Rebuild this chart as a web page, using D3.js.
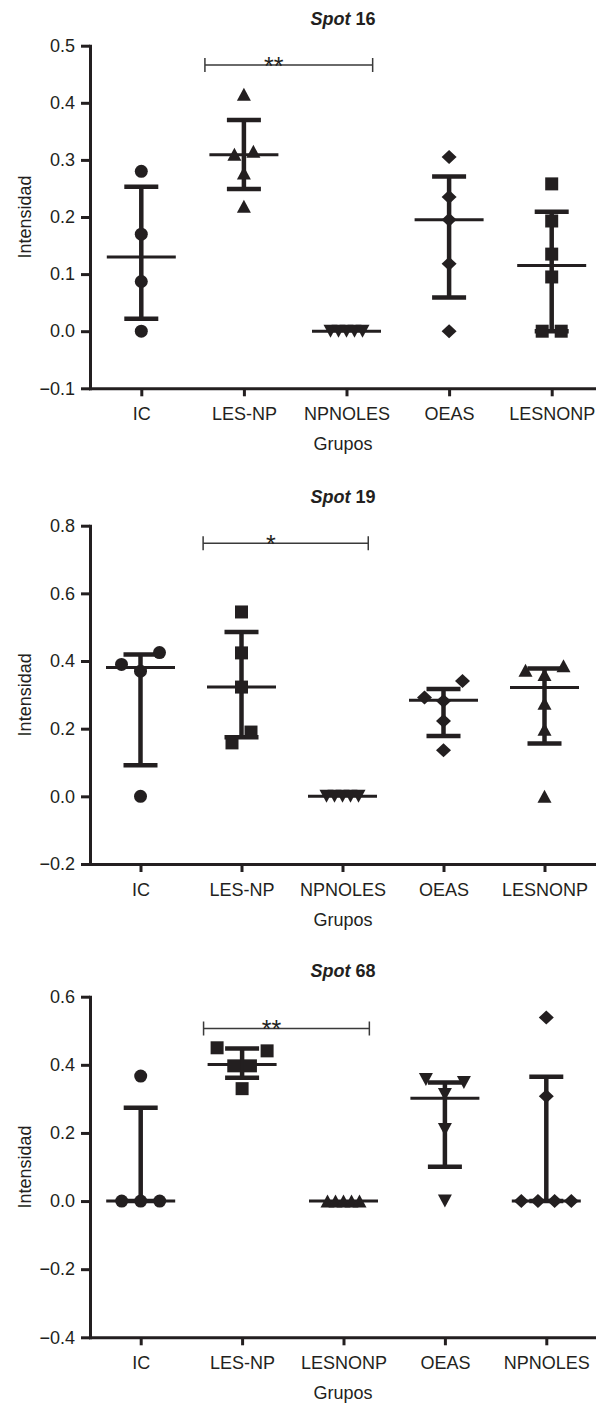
<!DOCTYPE html>
<html lang="es">
<head>
<meta charset="utf-8">
<title>Spot 16, 19, 68</title>
<script src="https://d3js.org/d3.v7.min.js"></script>
<style>
  body { margin: 0; background: #fff; }
  text { font-family: "Liberation Sans", Arial, Helvetica, sans-serif; fill: #231f20; }
</style>
</head>
<body>
<div id="chart"></div>
<script>

// ---- DATA ----
// Spot 16
var groups16 = ["IC", "LES-NP", "NPNOLES", "OEAS", "LESNONP"];
var values16 = [
  [0.28, 0.17, 0.087, 0],
  [0.415, 0.31, 0.315, 0.277, 0.219],
  [0, 0, 0, 0, 0],
  [0.305, 0.235, 0.195, 0.118, 0],
  [0.258, 0.193, 0.135, 0.095, 0, 0]
];
var median16 = [0.13, 0.309, 0, 0.195, 0.115];
var q1_16 = [0.022, 0.249, 0, 0.059, 0];
var q3_16 = [0.253, 0.37, 0, 0.271, 0.209];
var ticks16 = [-0.1, 0, 0.1, 0.2, 0.3, 0.4, 0.5];
var sig16 = ["LES-NP", "NPNOLES", 0.466, "**"];

// Spot 19
var groups19 = ["IC", "LES-NP", "NPNOLES", "OEAS", "LESNONP"];
var values19 = [
  [0.39, 0.37, 0.425, 0],
  [0.545, 0.424, 0.323, 0.158, 0.19],
  [0, 0, 0, 0, 0],
  [0.292, 0.282, 0.341, 0.223, 0.136],
  [0.373, 0.36, 0.386, 0.275, 0.198, 0]
];
var median19 = [0.381, 0.323, 0, 0.284, 0.322];
var q1_19 = [0.092, 0.175, 0, 0.178, 0.156];
var q3_19 = [0.419, 0.486, 0, 0.317, 0.378];
var ticks19 = [-0.2, 0, 0.2, 0.4, 0.6, 0.8];
var sig19 = ["LES-NP", "NPNOLES", 0.748, "*"];

// Spot 68
var groups68 = ["IC", "LES-NP", "LESNONP", "OEAS", "NPNOLES"];
var values68 = [
  [0.367, 0, 0, 0],
  [0.45, 0.397, 0.397, 0.441, 0.33],
  [0, 0, 0, 0, 0],
  [0.357, 0.313, 0.348, 0.21, 0],
  [0.539, 0.308, 0, 0, 0, 0]
];
var median68 = [0, 0.401, 0, 0.302, 0];
var q1_68 = [0, 0.362, 0, 0.101, 0];
var q3_68 = [0.274, 0.448, 0, 0.348, 0.365];
var ticks68 = [-0.4, -0.2, 0, 0.2, 0.4, 0.6];
var sig68 = ["LES-NP", "LESNONP", 0.507, "**"];

// ---- LAYOUT ----
var W = 596, H = 1404;
var ink = "#231f20";
var x0 = 90, plotMid = 343;
var fs = 18;

var panels = [
  { spot: "16", groups: groups16, values: values16, median: median16, q1: q1_16, q3: q3_16,
    ticks: ticks16, sig: sig16, top: 45.7, bottom: 388.3, xEnd: 603, titleY: 25,
    shapes: ["circle", "up", "down", "diamond", "square"] },
  { spot: "19", groups: groups19, values: values19, median: median19, q1: q1_19, q3: q3_19,
    ticks: ticks19, sig: sig19, top: 525.7, bottom: 864, xEnd: 595, titleY: 503,
    shapes: ["circle", "square", "down", "diamond", "up"] },
  { spot: "68", groups: groups68, values: values68, median: median68, q1: q1_68, q3: q3_68,
    ticks: ticks68, sig: sig68, top: 996.7, bottom: 1337.3, xEnd: 597, titleY: 977,
    shapes: ["circle", "square", "up", "down", "diamond"] }
];

// marker outlines centred on 0,0
function shapePath(kind) {
  switch (kind) {
    case "circle": return "M6.5,0A6.5,6.5 0 1,1 -6.5,0A6.5,6.5 0 1,1 6.5,0Z";
    case "up": return "M0,-6.5L7,6.5L-7,6.5Z";
    case "down": return "M0,6.5L7,-6.5L-7,-6.5Z";
    case "square": return "M-6.5,-6.5H6.5V6.5H-6.5Z";
    case "diamond": return "M0,-7L7.5,0L0,7L-7.5,0Z";
  }
}

// spread points that sit at nearly the same height (Prism-like scatter)
function spread(vals, y) {
  var order = vals.map(function(v, i) { return i; })
    .sort(function(a, b) { return y(vals[a]) - y(vals[b]) || a - b; });
  var rows = [], cur = [];
  order.forEach(function(i, k) {
    if (k > 0 && y(vals[i]) - y(vals[order[k - 1]]) >= 17) { rows.push(cur); cur = []; }
    cur.push(i);
  });
  rows.push(cur);
  var off = vals.map(function() { return 0; });
  rows.forEach(function(r) {
    r.sort(function(a, b) { return a - b; });
    var n = r.length;
    if (n < 2) return;
    var step = n > 4 ? 8 : Math.min(19, 50 / (n - 1));
    r.forEach(function(i, k) { off[i] = (k - (n - 1) / 2) * step; });
  });
  return off;
}

var svg = d3.select("#chart").append("svg")
  .attr("width", W).attr("height", H)
  .attr("viewBox", "0 0 " + W + " " + H);

var fmt = d3.format(".1f");

panels.forEach(function(p) {
  var g = svg.append("g");

  var y = d3.scaleLinear()
    .domain([p.ticks[0], p.ticks[p.ticks.length - 1]])
    .range([p.bottom, p.top]);
  var x = d3.scalePoint()
    .domain(p.groups)
    .range([x0, p.xEnd])
    .padding(0.5);
  var step = x.step();

  // axes
  var yAxis = g.append("g")
    .attr("transform", "translate(" + x0 + ",0)")
    .call(d3.axisLeft(y).tickValues(p.ticks).tickFormat(fmt).tickSize(9).tickSizeOuter(0).tickPadding(6));
  var xAxis = g.append("g")
    .attr("transform", "translate(0," + p.bottom + ")")
    .call(d3.axisBottom(x).tickSize(8).tickSizeOuter(0));

  [yAxis, xAxis].forEach(function(a) {
    a.attr("font-size", fs).attr("font-family", null);
    a.select(".domain").attr("stroke", ink).attr("stroke-width", 3).attr("stroke-linecap", "square");
    a.selectAll(".tick line").attr("stroke", ink).attr("stroke-width", 3);
    a.selectAll(".tick text").attr("fill", ink);
  });
  xAxis.selectAll(".tick text").attr("y", 32).attr("dy", null);

  // titles
  var t = g.append("text")
    .attr("x", plotMid).attr("y", p.titleY)
    .attr("text-anchor", "middle")
    .attr("font-size", fs).attr("font-weight", "bold");
  t.append("tspan").attr("font-style", "italic").text("Spot");
  t.append("tspan").text(" " + p.spot);

  g.append("text")
    .attr("transform", "translate(31," + ((p.top + p.bottom) / 2) + ") rotate(-90)")
    .attr("text-anchor", "middle")
    .attr("font-size", fs)
    .text("Intensidad");

  g.append("text")
    .attr("x", plotMid).attr("y", p.bottom + 61.5)
    .attr("text-anchor", "middle")
    .attr("font-size", fs)
    .text("Grupos");

  // significance bracket
  var bx1 = x(p.sig[0]) - 0.38 * step;
  var bx2 = x(p.sig[1]) + 0.255 * step;
  var by = y(p.sig[2]);
  g.append("path")
    .attr("d", "M" + bx1 + "," + (by - 7) + "V" + (by + 7) + "M" + bx1 + "," + by + "H" + bx2 +
               "M" + bx2 + "," + (by - 7) + "V" + (by + 7))
    .attr("fill", "none").attr("stroke", "#3a3a3a").attr("stroke-width", 1.5);
  g.append("text")
    .attr("x", x(p.sig[0]) + 0.29 * step).attr("y", by + 9.5)
    .attr("text-anchor", "middle")
    .attr("font-size", 25)
    .text(p.sig[3]);

  // median + interquartile range, then the points
  p.groups.forEach(function(name, i) {
    var cx = x(name);
    var gg = g.append("g");
    if (p.q3[i] > p.q1[i]) {
      gg.append("line")
        .attr("x1", cx).attr("x2", cx)
        .attr("y1", y(p.q1[i])).attr("y2", y(p.q3[i]))
        .attr("stroke", ink).attr("stroke-width", 4.5);
      [p.q1[i], p.q3[i]].forEach(function(v) {
        gg.append("line")
          .attr("x1", cx - 17).attr("x2", cx + 17)
          .attr("y1", y(v)).attr("y2", y(v))
          .attr("stroke", ink).attr("stroke-width", 4.5);
      });
    }
    gg.append("line")
      .attr("x1", cx - 34.5).attr("x2", cx + 34.5)
      .attr("y1", y(p.median[i])).attr("y2", y(p.median[i]))
      .attr("stroke", ink).attr("stroke-width", 3);

    var off = spread(p.values[i], y);
    gg.selectAll("path.pt")
      .data(p.values[i])
      .enter().append("path")
      .attr("class", "pt")
      .attr("d", shapePath(p.shapes[i]))
      .attr("transform", function(d, k) { return "translate(" + (cx + off[k]) + "," + y(d) + ")"; })
      .attr("fill", ink);
  });
});

</script>
</body>
</html>
